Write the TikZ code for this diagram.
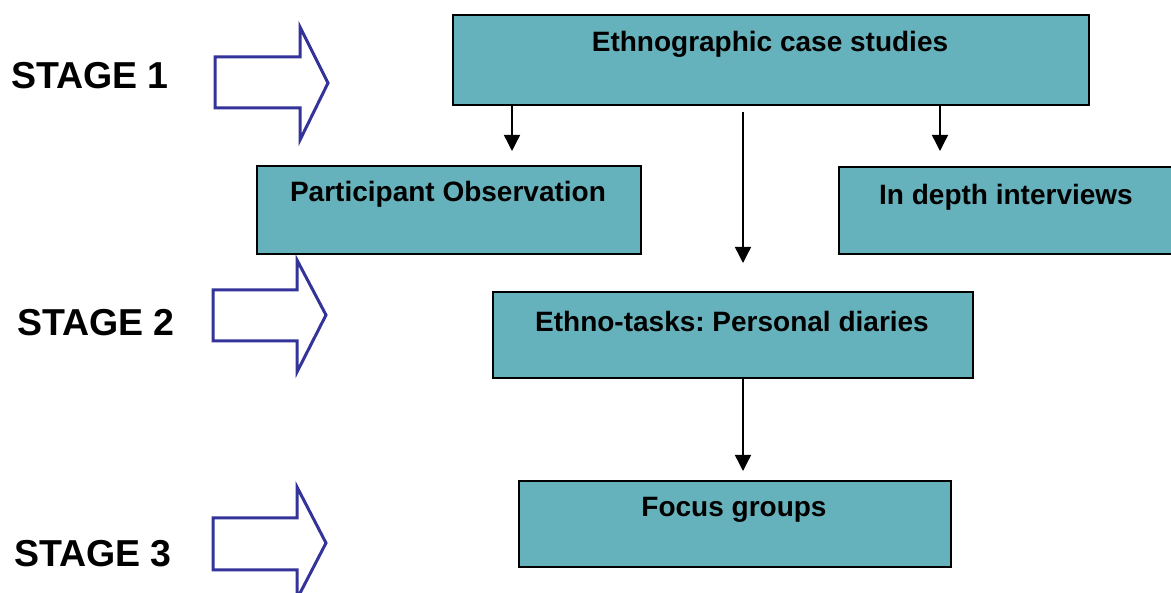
\documentclass[tikz,border=0pt]{standalone}
\usepackage{fontspec}
\setmainfont{Liberation Sans}
\usetikzlibrary{arrows.meta}
\definecolor{boxteal}{RGB}{102,178,188}
\definecolor{arrblue}{RGB}{51,51,153}
\frenchspacing
\tikzset{
  box/.style={draw=black, line width=1.6pt, fill=boxteal, rectangle, anchor=north west, inner sep=0pt},
  lbl/.style={font=\fontsize{28}{30}\selectfont\bfseries, inner sep=0pt},
  stagelbl/.style={font=\fontsize{37.5}{40}\selectfont\bfseries, inner sep=0pt, anchor=west},
  blockarrow/.style={draw=arrblue, line width=3pt, fill=white, line join=miter},
  conn/.style={line width=1.4pt, -{Triangle[width=16pt,length=16pt]}}
}
\begin{document}
\begin{tikzpicture}[x=1pt,y=-1pt]
\useasboundingbox (0,0) rectangle (1171,593);
% boxes
\node[box, minimum width=636pt, minimum height=90pt] (e) at (452,14) {};
\node[lbl] (el) at (770,44) {Ethnographic case studies};
\node[box, minimum width=384pt, minimum height=88pt] (po) at (256,165) {};
\node[lbl] (pol) at (448,194) {Participant Observation};
\node[box, minimum width=360pt, minimum height=87pt] (id) at (838,166) {};
\node[lbl] (idl) at (1006,197) {In depth interviews};
\node[box, minimum width=480pt, minimum height=86pt] (et) at (492,291) {};
\node[lbl] (etl) at (732,321) {Ethno-tasks: Personal diaries};
\node[box, minimum width=432pt, minimum height=86pt] (fg) at (518,480) {};
\node[lbl] (fgl) at (734,510) {Focus groups};
% stage labels
\node[stagelbl] (s1) at (11,76) {STAGE 1};
\node[stagelbl] (s2) at (17,323) {STAGE 2};
\node[stagelbl] (s3) at (14,554) {STAGE 3};
% block arrows
\draw[blockarrow] (215,57) -- (300,57) -- (300,27) -- (328,83) -- (300,140) -- (300,108) -- (215,108) -- cycle;
\draw[blockarrow] (213,290) -- (297,290) -- (297,260) -- (326,315) -- (297,372) -- (297,341) -- (213,341) -- cycle;
\draw[blockarrow] (213,518) -- (297,518) -- (297,487) -- (326,543) -- (297,599) -- (297,570) -- (213,570) -- cycle;
% connector ends
\coordinate (t1) at (512,151);
\coordinate (t2) at (743,263);
\coordinate (t3) at (940,151);
\coordinate (t4) at (743,471);
\draw[conn] (e.south -| t1) -- (t1);
\draw[conn] ([yshift=-6pt]e.south -| t2) -- (t2);
\draw[conn] (e.south -| t3) -- (t3);
\draw[conn] (et.south -| t4) -- (t4);
\end{tikzpicture}
\end{document}
